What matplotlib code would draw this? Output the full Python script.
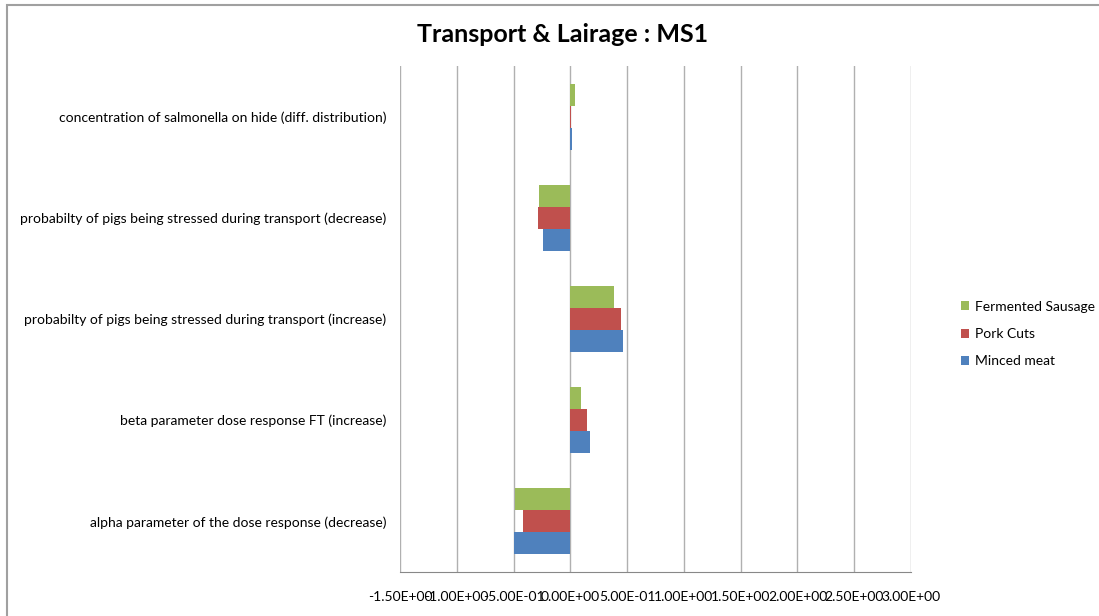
import numpy as np
import matplotlib.pyplot as plt
from matplotlib.patches import Rectangle

categories = [
    "alpha parameter of the dose response (decrease)",
    "beta parameter dose response FT (increase)",
    "probabilty of pigs being stressed during transport (increase)",
    "probabilty of pigs being stressed during transport (decrease)",
    "concentration of salmonella on hide (diff. distribution)",
]
minced_meat = [-0.50, 0.176, 0.467, -0.244, 0.018]
pork_cuts = [-0.417, 0.147, 0.444, -0.286, 0.005]
fermented_sausage = [-0.485, 0.097, 0.388, -0.277, 0.044]
xticks = [-1.5, -1.0, -0.5, 0.0, 0.5, 1.0, 1.5, 2.0, 2.5, 3.0]

plt.rcParams['font.family'] = ['Lato', 'DejaVu Sans']

fig = plt.figure(figsize=(10.99, 6.16), dpi=100)
ax = fig.add_axes([400 / 1099, 1 - 572 / 616, 511 / 1099, 506 / 616])

# chart area border
fig.patches.append(Rectangle((7 / 1099, -0.01), 1.0, 1 - 5 / 616 + 0.01,
                             transform=fig.transFigure, fill=False,
                             edgecolor='#a0a0a0', linewidth=1.5))

y = np.arange(len(categories))
h = 0.217
ax.barh(y - h, minced_meat, height=h, color='#4f81bd', label='Minced meat')
ax.barh(y, pork_cuts, height=h, color='#c0504d', label='Pork Cuts')
ax.barh(y + h, fermented_sausage, height=h, color='#9bbb59', label='Fermented Sausage')

ax.set_xlim(-1.5, 3.0)
ax.set_ylim(-0.5, len(categories) - 0.5)
ax.set_xticks(xticks)
ax.set_xticklabels(["%.2E" % v for v in xticks], fontsize=10)
ax.set_yticks(y)
ax.set_yticklabels(categories, fontsize=10)
ax.tick_params(length=0, pad=10)
ax.tick_params(axis='x', pad=14)
ax.grid(axis='x', color='#b0b0b0', linewidth=1)
ax.set_axisbelow(True)
for s in ['top', 'right', 'left']:
    ax.spines[s].set_visible(False)
ax.spines['bottom'].set_color('#888888')

fig.text(0.512, 1 - 35 / 616, "Transport & Lairage : MS1", fontsize=18,
         fontweight='bold', ha='center', va='center')

handles, labels = ax.get_legend_handles_labels()
fig.legend(handles[::-1], labels[::-1], loc='center left',
           bbox_to_anchor=(961 / 1099, 1 - 334 / 616), frameon=False,
           fontsize=10, handlelength=0.6, handleheight=0.6,
           handletextpad=0.4, labelspacing=1.1, borderaxespad=0, borderpad=0)

fig.savefig('out.png', dpi=100)
